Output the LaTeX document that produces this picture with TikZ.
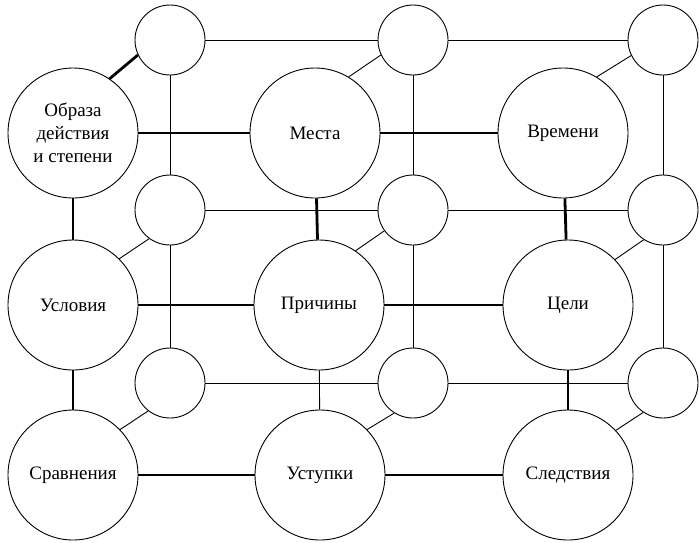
\documentclass[tikz,border=0pt]{standalone}
\usepackage{fontspec}
\setmainfont{Liberation Serif}
\usepackage{tikz}

\begin{document}
\begin{tikzpicture}[x=1pt,y=-1pt,
  big/.style={circle,draw,line width=0.9pt,fill=white,minimum size=130pt,inner sep=0pt,
    align=center,font=\fontsize{19}{23}\selectfont},
  small/.style={circle,draw,line width=0.9pt,fill=white,minimum size=70pt,inner sep=0pt},
  fat/.style={line width=2.8pt},
  lean/.style={line width=0.9pt}]
 \useasboundingbox (0,0) rectangle (699,542);

 \node[small] (s11) at (170,40) {};
 \node[small] (s12) at (413,40) {};
 \node[small] (s13) at (663,40) {};
 \node[small] (s21) at (170,210) {};
 \node[small] (s22) at (413,210) {};
 \node[small] (s23) at (663,210) {};
 \node[small] (s31) at (170,383) {};
 \node[small] (s32) at (413,383) {};
 \node[small] (s33) at (663,383) {};

 \node[big] (obr) at (73,133) {Образа\\действия\\и степени};
 \node[big] (mesta) at (315,133) {Места};
 \node[big] (vrem) at (563,133) {Времени};
 \node[big] (usl) at (73,305) {Условия};
 \node[big] (prich) at (319,305) {Причины};
 \node[big] (cel) at (568,305) {Цели};
 \node[big] (srav) at (73,475) {Сравнения};
 \node[big] (ust) at (320,475) {Уступки};
 \node[big] (sled) at (568,475) {Следствия};

 \path[fat]
 (obr) edge (mesta)
 (mesta) edge (vrem)
 (usl) edge (prich)
 (prich) edge (cel)
 (srav) edge (ust)
 (ust) edge (sled)
 (obr) edge (usl)
 (usl) edge (srav)
 (mesta) edge (prich)
 (vrem) edge (cel)
 (cel) edge (sled)
 (obr.56) edge (s11.205);

 \path[lean]
 (prich) edge (ust)
 (s11) edge (s12)
 (s12) edge (s13)
 (s21) edge (s22)
 (s22) edge (s23)
 (s31) edge (s32)
 (s32) edge (s33)
 (s11) edge (s21)
 (s21) edge (s31)
 (s12) edge (s22)
 (s22) edge (s32)
 (s13) edge (s23)
 (s23) edge (s33)
 (mesta.59) edge (s12.205)
 (vrem.59) edge (s13.206)
 (usl.45) edge (s21.234)
 (prich.56) edge (s22.216)
 (cel.44) edge (s23.237)
 (srav.44) edge (s31.232)
 (ust.44) edge (s32.238)
 (sled.43) edge (s33.236);
\end{tikzpicture}
\end{document}
